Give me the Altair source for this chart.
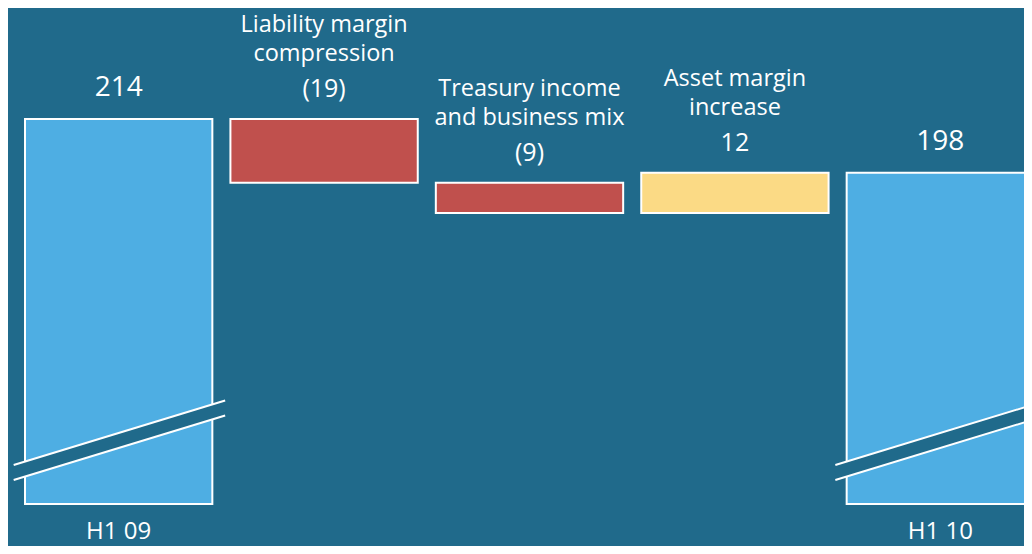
import altair as alt
import pandas as pd

# ---- data ----
categories = ["H1 09", "Liability margin compression",
              "Treasury income and business mix", "Asset margin increase", "H1 10"]
title_line1 = ["", "Liability margin", "Treasury income", "Asset margin", ""]
title_line2 = ["", "compression", "and business mix", "increase", ""]
bottom_labels = ["H1 09", "", "", "", "H1 10"]
amounts = [214, -19, -9, 12, 198]
kinds = ["total", "decrease", "decrease", "increase", "total"]
value_labels = ["214", "(19)", "(9)", "12", "198"]

AXIS_FLOOR = 99.3            # value where the (broken) bars start
Y_DOMAIN = [86.8, 247.07]
BREAK_LOW, BREAK_HIGH = 108.7, 127.9   # axis-break marker ends

BG = "#206a8b"

starts, ends = [], []
running = 0
for a, k in zip(amounts, kinds):
    if k == "total":
        starts.append(AXIS_FLOOR)
        ends.append(a)
        running = a
    else:
        starts.append(running)
        running = running + a
        ends.append(running)

df = pd.DataFrame({
    "cat": categories,
    "start": starts,
    "end": ends,
    "top": [max(s, e) for s, e in zip(starts, ends)],
    "kind": kinds,
    "label": value_labels,
    "t1": title_line1,
    "t2": title_line2,
    "bottom": bottom_labels,
    "floor": [AXIS_FLOOR] * len(categories),
})

breaks = pd.DataFrame({
    "cat": [categories[0], categories[-1]],
    "lo": [BREAK_LOW, BREAK_LOW],
    "hi": [BREAK_HIGH, BREAK_HIGH],
})

xscale = alt.Scale(domain=categories, range=[17, 1026], paddingInner=0.088, paddingOuter=0)
yscale = alt.Scale(domain=Y_DOMAIN, zero=False, nice=False)

X = alt.X("cat:N", scale=xscale, sort=categories, axis=None)

base = alt.Chart(df)

bars = base.mark_bar(stroke="white", strokeWidth=2).encode(
    x=X,
    y=alt.Y("start:Q", scale=yscale, axis=None),
    y2="end:Q",
    color=alt.Color("kind:N",
                    scale=alt.Scale(domain=["total", "decrease", "increase"],
                                    range=["#4eaee3", "#c0504d", "#fbda85"]),
                    legend=None),
)

bx = alt.X("cat:N", scale=xscale, sort=categories, axis=None, bandPosition=0.5)
bx2 = alt.X2("cat:N", bandPosition=0.5)

brk = alt.Chart(breaks)
break_bg = brk.mark_rule(color=BG, strokeWidth=14, strokeCap="butt",
                         xOffset=-105, x2Offset=106.5).encode(
    x=bx, x2=bx2,
    y=alt.Y("lo:Q", scale=yscale, axis=None), y2="hi:Q")
break_w1 = brk.mark_rule(color="white", strokeWidth=2, strokeCap="butt",
                         xOffset=-105, x2Offset=106.5,
                         yOffset=-7.5, y2Offset=-7.5).encode(
    x=bx, x2=bx2,
    y=alt.Y("lo:Q", scale=yscale, axis=None), y2="hi:Q")
break_w2 = brk.mark_rule(color="white", strokeWidth=2, strokeCap="butt",
                         xOffset=-105, x2Offset=106.5,
                         yOffset=7.5, y2Offset=7.5).encode(
    x=bx, x2=bx2,
    y=alt.Y("lo:Q", scale=yscale, axis=None), y2="hi:Q")

FONT = "Open Sans"

def txt(field, yfield, dy, size, data_filter=None):
    c = base.mark_text(color="white", font=FONT, fontSize=size, dy=dy,
                       baseline="alphabetic", align="center")
    if data_filter is not None:
        c = c.transform_filter(data_filter)
    return c.encode(x=X, y=alt.Y(f"{yfield}:Q", scale=yscale, axis=None),
                    text=f"{field}:N")

val_tot = txt("label", "top", -23, 28, alt.datum.kind == "total")
val_chg = txt("label", "top", -22, 25, alt.datum.kind != "total")
line2 = txt("t2", "top", -58, 23.5)
line1 = txt("t1", "top", -87, 23.5)
bottom = txt("bottom", "floor", 35, 24)

chart = alt.layer(
    bars, break_bg, break_w1, break_w2, val_tot, val_chg, line2, line1, bottom
).properties(
    width=1016, height=538, autosize="none", padding=0, background=BG
).configure_view(strokeWidth=0)

chart.save("out.html", embed_options={"renderer": "svg", "actions": False})
